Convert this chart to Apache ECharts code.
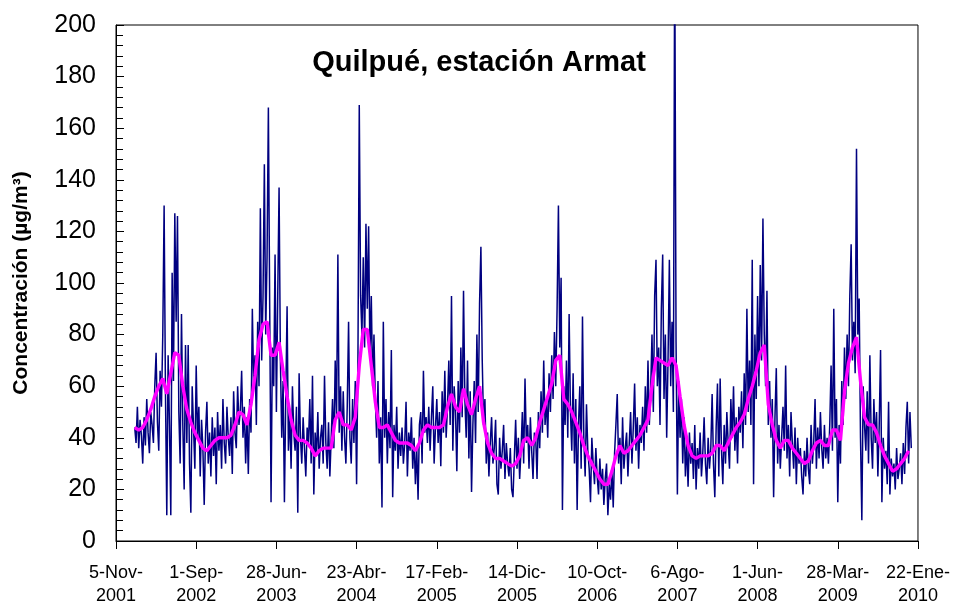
<!DOCTYPE html>
<html>
<head>
<meta charset="utf-8">
<script src="https://cdn.jsdelivr.net/npm/echarts@6/dist/echarts.min.js"></script>
<style>
  html, body { margin: 0; padding: 0; background: #fff; }
  #chart { width: 953px; height: 608px; }
</style>
</head>
<body>
<div id="chart"></div>
<script>
// eje x: dias desde 5-Nov-2001, marcas cada 300 dias
const xTickLabels = ['5-Nov-\n2001', '1-Sep-\n2002', '28-Jun-\n2003', '23-Abr-\n2004', '17-Feb-\n2005',
  '14-Dic-\n2005', '10-Oct-\n2006', '6-Ago-\n2007', '1-Jun-\n2008', '28-Mar-\n2009', '22-Ene-\n2010'];

// concentracion diaria (muestreada cada 5 dias desde el dia 70)
const dailyStart = 70;
const dailyStep = 5;
const dailyValues = [
  44,38,52,36,47,41,30,48,37,55,42,34,50,45,38,60,73,46,35,66,
  52,80,130,58,10,72,45,10,104,62,127,85,126,50,30,88,45,20,76,38,
  76,30,11,60,44,28,68,40,52,25,47,36,14,42,54,30,42,25,48,33,
  44,22,50,35,45,28,55,38,30,52,40,33,48,26,58,42,36,60,45,50,
  66,40,52,30,48,26,55,42,90,60,72,45,85,60,129,70,95,146,80,110,
  168,90,15,75,60,111,50,95,137,70,40,62,15,55,91,35,50,28,60,42,
  35,52,11,65,40,30,48,36,25,44,38,55,30,64,18,42,33,50,28,40,
  45,30,64,38,28,46,25,40,55,36,70,48,111,42,60,35,58,40,30,52,
  85,40,30,55,38,62,22,70,169,95,80,110,75,123,90,122,70,95,60,80,
  55,40,62,30,48,13,85,40,55,30,50,36,74,17,45,35,52,28,42,33,
  44,30,38,54,25,42,35,48,28,40,22,36,16,45,50,30,66,42,48,38,
  52,35,48,60,30,44,55,38,50,29,58,42,66,40,52,70,45,95,35,60,
  50,27,62,42,75,48,97,55,40,70,32,58,19,45,62,38,80,50,92,114,
  70,45,55,30,42,25,38,48,30,36,47,22,18,40,28,35,45,24,38,30,
  25,36,20,17,32,47,28,40,24,35,50,30,63,38,45,28,48,35,24,42,
  40,24,50,36,58,42,70,45,55,40,65,50,72,55,81,60,90,130,75,102,
  12,60,45,70,40,88,50,35,65,30,55,12,45,60,28,87,40,25,53,35,
  28,15,40,30,22,36,25,18,32,20,28,14,24,30,10,22,16,28,13,34,
  45,57,30,40,22,48,28,36,42,25,38,50,30,44,61,35,48,28,45,38,
  52,35,60,42,70,45,58,80,50,95,109,60,75,45,90,111,55,80,40,70,
  109,60,85,50,235,77,18,62,40,55,30,48,25,38,21,42,30,38,24,45,
  20,36,28,42,25,34,48,30,22,40,28,36,57,30,17,44,61,25,63,35,
  22,45,30,50,38,28,55,40,60,35,48,30,52,42,58,36,65,45,90,50,
  70,45,109,22,80,55,95,60,107,70,125,80,60,97,45,62,40,55,17,48,
  67,30,45,28,40,52,35,68,32,45,25,50,38,28,44,22,40,30,36,25,
  18,35,25,40,28,22,45,30,38,55,28,44,32,50,36,28,45,32,40,30,
  45,68,35,90,40,55,15,45,30,62,45,75,55,80,60,95,115,70,85,65,
  152,80,94,40,8,60,45,35,58,30,72,40,28,55,38,50,25,45,74,15,
  40,28,35,22,54,18,32,25,30,20,36,24,28,34,22,38,26,44,54,30,
  50,36
];

// media movil (cada 15 dias desde el dia 70)
const avgStart = 70;
const avgStep = 15;
const avgValues = [
  44,43,44,47,51,56,60,63,57,65,73,72,60,51,46,42,39,36,35,37,
  39,40,40,40,41,45,50,49,45,53,64,78,84,85,72,72,77,66,56,47,
  41,39,39,38,36,33,35,36,36,36,47,50,45,45,43,48,68,82,82,68,
  54,44,44,45,42,39,38,38,38,37,35,38,43,45,44,44,44,45,52,57,
  52,50,59,53,49,55,60,46,38,34,32,32,31,30,29,30,33,39,40,37,
  40,46,51,56,61,70,72,55,53,50,46,42,37,33,30,27,24,22,22,27,
  33,37,34,35,37,39,41,44,47,60,71,70,69,68,71,68,56,45,37,33,
  32,33,33,33,34,37,37,35,38,41,44,46,49,55,60,66,73,76,53,45,
  39,36,39,39,36,34,32,30,31,35,38,39,37,37,43,43,39,58,69,75,
  79,62,48,45,45,42,37,33,30,27,28,30,32,35
];

const dailyData = dailyValues.map((v, i) => [dailyStart + i * dailyStep, v]);
const avgData = avgValues.map((v, i) => [avgStart + i * avgStep, v]);

const chart = echarts.init(document.getElementById('chart'));

const option = {
  animation: false,
  backgroundColor: '#fff',
  title: {
    text: 'Quilpué, estación Armat',
    left: 474,
    top: 43,
    textAlign: 'center',
    textStyle: { fontFamily: 'Liberation Sans', fontSize: 29, fontWeight: 'bold', color: '#000' }
  },
  grid: {
    left: 116,
    right: 34,
    top: 25,
    bottom: 63,
    show: true,
    borderColor: '#000',
    borderWidth: 1
  },
  xAxis: {
    type: 'value',
    min: 0,
    max: 3000,
    interval: 300,
    splitLine: { show: false },
    axisLine: { lineStyle: { color: '#000', width: 1 } },
    axisTick: { inside: false, length: 8, lineStyle: { color: '#000' } },
    axisLabel: {
      margin: 21,
      fontFamily: 'Liberation Sans Narrow, Liberation Sans',
      fontSize: 18,
      lineHeight: 23,
      color: '#000',
      formatter: v => xTickLabels[Math.round(v / 300)] || ''
    }
  },
  yAxis: {
    type: 'value',
    min: 0,
    max: 200,
    interval: 20,
    name: 'Concentración (µg/m³)',
    nameLocation: 'middle',
    nameGap: 84,
    nameTextStyle: { fontFamily: 'Liberation Sans', fontSize: 21, fontWeight: 'bold', color: '#000' },
    splitLine: { show: false },
    axisLine: { lineStyle: { color: '#000', width: 1 } },
    axisTick: { inside: true, length: 8, lineStyle: { color: '#000' } },
    minorTick: { show: true, splitNumber: 5, length: 7, lineStyle: { color: '#000' } },
    axisLabel: {
      margin: 20,
      fontFamily: 'Liberation Sans',
      fontSize: 25,
      color: '#000'
    }
  },
  series: [
    {
      name: 'diario',
      type: 'line',
      data: dailyData,
      symbol: 'none',
      clip: true,
      lineStyle: { color: '#000080', width: 1.5 },
      z: 2
    },
    {
      name: 'media movil',
      type: 'line',
      data: avgData,
      symbol: 'none',
      clip: true,
      lineStyle: { color: '#ff00ff', width: 3.4 },
      z: 3
    }
  ]
};

chart.setOption(option);
</script>
</body>
</html>
